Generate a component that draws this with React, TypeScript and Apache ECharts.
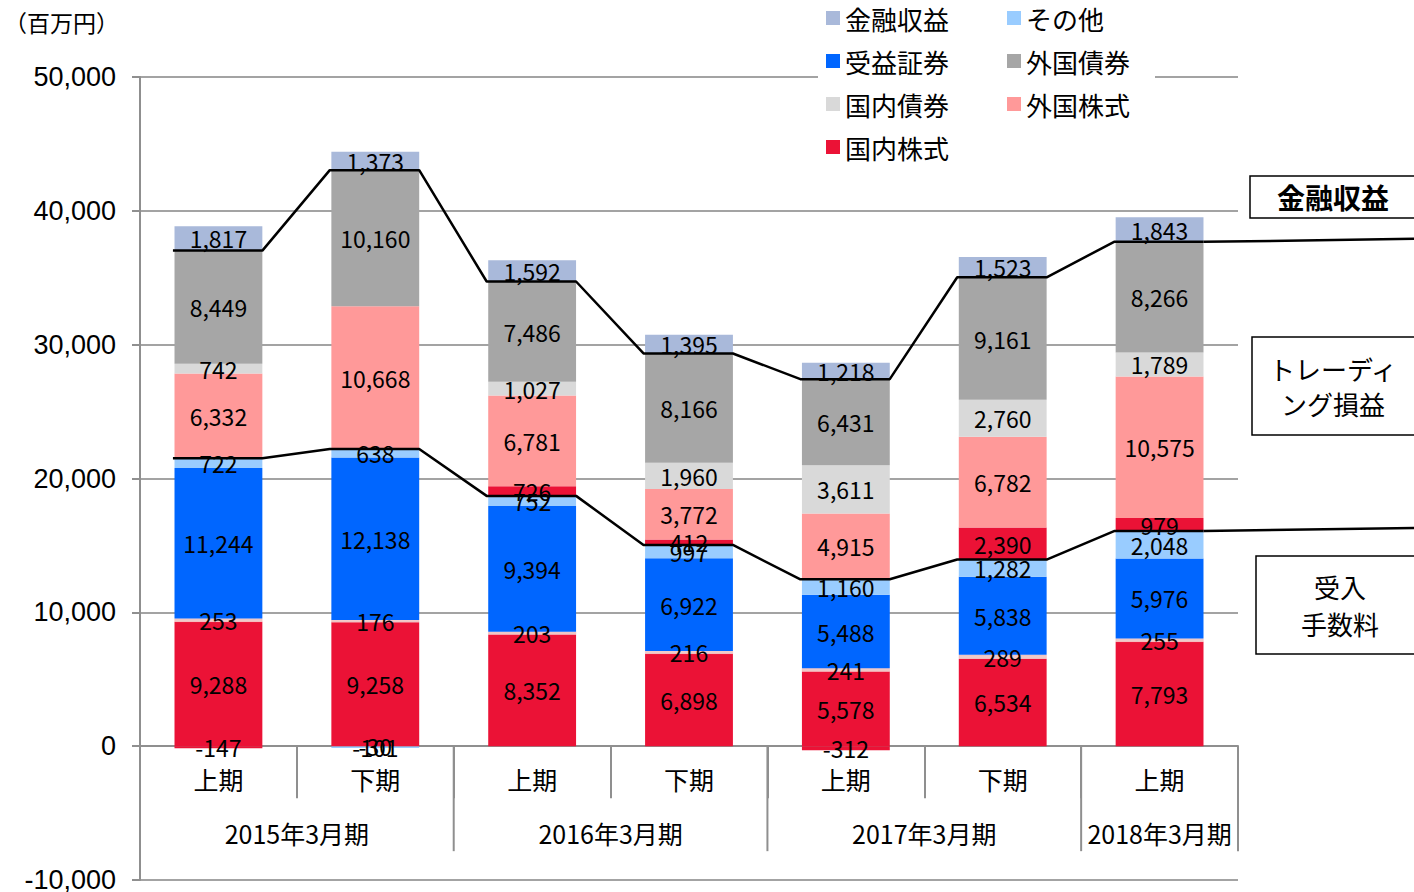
import React, { useEffect, useRef } from "react";
import * as echarts from "echarts";

const categories = ["上期", "下期", "上期", "下期", "上期", "下期", "上期"];
const years = ["2015年3月期", "2016年3月期", "2017年3月期", "2018年3月期"];
const yearSpans = [2, 2, 2, 1];

// 受入手数料
const feeDomesticStock = [9288, 9258, 8352, 6898, 5578, 6534, 7793];
const feeThin = [253, 176, 203, 216, 241, 289, 255];
const feeTrust = [11244, 12138, 9394, 6922, 5488, 5838, 5976];
const feeOther = [722, 638, 752, 997, 1160, 1282, 2048];
// トレーディング損益
const trDomesticStock = [-147, -30, 726, 412, -312, 2390, 979];
const trOther = [null, -101, null, null, null, null, null];
const trForeignStock = [6332, 10668, 6781, 3772, 4915, 6782, 10575];
const trDomesticBond = [742, null, 1027, 1960, 3611, 2760, 1789];
const trForeignBond = [8449, 10160, 7486, 8166, 6431, 9161, 8266];
// 金融収益
const finIncome = [1817, 1373, 1592, 1395, 1218, 1523, 1843];

const C = {
  fin: "#A9B9DA",
  other: "#99CCFF",
  trust: "#0066FF",
  fBond: "#A6A6A6",
  dBond: "#D9D9D9",
  fStock: "#FF9999",
  dStock: "#EB1236",
  thin: "#EDCBCB",
};

const JP = "'Noto Sans CJK JP', 'Noto Sans', sans-serif";
const AX = "#8F8F8F";

const pos = (v: number | null) => (v != null && v > 0 ? v : 0);

export default function App() {
  const ref = useRef<HTMLDivElement>(null);
  useEffect(() => {
    if (!ref.current) return;
    const chart = echarts.init(ref.current, undefined, { renderer: "svg" });

    const fmt = (p: any) =>
      p.value == null || p.value === 0 ? "" : Number(p.value).toLocaleString("en-US");

    const bar = (name: string, data: (number | null)[], color: string, extra: any = {}) => ({
      name,
      type: "bar",
      stack: "total",
      barWidth: "56%",
      data,
      itemStyle: { color, ...extra },
      label: {
        show: true,
        position: "inside",
        formatter: fmt,
        color: "#000",
        fontSize: 23,
        fontFamily: JP,
      },
      emphasis: { disabled: true },
      z: 2,
    });

    const feeTop = categories.map(
      (_, i) => pos(feeDomesticStock[i]) + pos(feeThin[i]) + pos(feeTrust[i]) + pos(feeOther[i])
    );
    const tradeTop = categories.map(
      (_, i) =>
        feeTop[i] +
        pos(trDomesticStock[i]) +
        pos(trOther[i]) +
        pos(trForeignStock[i]) +
        pos(trDomesticBond[i]) +
        pos(trForeignBond[i])
    );
    const halfW = 0.28;
    const linePts = (tops: number[]) => {
      const pts: number[][] = [];
      tops.forEach((t, i) => {
        pts.push([i + 0.5 - halfW - 0.01, t]);
        pts.push([i + 0.5 + halfW, t]);
      });
      return pts;
    };
    const lineSeries = (name: string, tops: number[]) => ({
      name,
      type: "line",
      xAxisIndex: 1,
      yAxisIndex: 0,
      data: linePts(tops),
      symbol: "none",
      clip: false,
      lineStyle: { color: "#000", width: 2.5 },
      emphasis: { disabled: true },
      z: 5,
    });

    const legendItem = (name: string, color: string) => ({
      name,
      icon: "rect",
      itemStyle: { color },
    });
    const legendCommon = {
      orient: "vertical",
      top: 0,
      itemWidth: 14,
      itemHeight: 14,
      itemGap: 17,
      selectedMode: false,
      backgroundColor: "#fff",
      textStyle: { fontSize: 26, lineHeight: 26, color: "#000", fontFamily: JP },
      z: 10,
    };

    const option: any = {
      animation: false,
      grid: { left: 140, right: 176, top: 77, bottom: 12, containLabel: false, outerBoundsMode: "none" },
      legend: [
        {
          ...legendCommon,
          left: 818,
          padding: [5, 60, 5, 8],
          data: [
            legendItem("金融収益", C.fin),
            legendItem("受益証券", C.trust),
            legendItem("国内債券", C.dBond),
            legendItem("国内株式", C.dStock),
          ],
        },
        {
          ...legendCommon,
          left: 997,
          padding: [5, 25, 5, 10],
          data: [
            legendItem("その他", C.other),
            legendItem("外国債券", C.fBond),
            legendItem("外国株式", C.fStock),
          ],
        },
      ],
      xAxis: [
        {
          type: "category",
          data: categories,
          position: "bottom",
          offset: 0,
          axisLine: { onZero: false, lineStyle: { color: AX, width: 2 } },
          axisTick: { show: true, length: 52, lineStyle: { color: AX, width: 2 } },
          axisLabel: { fontSize: 25, color: "#000", margin: 20, fontFamily: JP },
          splitLine: { show: false },
        },
        { type: "value", min: 0, max: 7, show: false },
      ],
      yAxis: {
        type: "value",
        min: -10000,
        max: 50000,
        interval: 10000,
        axisLine: { show: true, lineStyle: { color: AX, width: 2 } },
        axisTick: { show: true, length: 8, lineStyle: { color: AX, width: 2 } },
        axisLabel: {
          fontSize: 27,
          color: "#000",
          margin: 24,
          fontFamily: "'Liberation Sans', Arial, sans-serif",
          formatter: (v: number) => v.toLocaleString("en-US"),
        },
        splitLine: { lineStyle: { color: "#A3A3A3", width: 2 } },
      },
      series: [
        bar("国内株式", feeDomesticStock, C.dStock),
        bar("外国株式・債券手数料", feeThin, C.thin, { borderColor: "#F7B0B0", borderWidth: 0.5 }),
        bar("受益証券", feeTrust, C.trust),
        bar("その他", feeOther, C.other),
        bar("国内株式", trDomesticStock, C.dStock),
        bar("その他", trOther, C.other),
        bar("外国株式", trForeignStock, C.fStock),
        bar("国内債券", trDomesticBond, C.dBond),
        bar("外国債券", trForeignBond, C.fBond),
        bar("金融収益", finIncome, C.fin),
        lineSeries("手数料計", feeTop),
        lineSeries("トレーディング計", tradeTop),
      ],
    };
    chart.setOption(option);

    // graphics and axis placement that depend on the axis scale
    const px = (v: number) => chart.convertToPixel({ xAxisIndex: 1 }, v) as number;
    const py = (v: number) => chart.convertToPixel({ yAxisIndex: 0 }, v) as number;
    const y0 = py(0);
    const yBottom = py(-10000);
    const g: any[] = [];
    let acc = 0;
    years.forEach((label, k) => {
      const start = acc;
      acc += yearSpans[k];
      const xEnd = px(acc);
      g.push({
        type: "line",
        shape: { x1: xEnd, y1: y0, x2: xEnd, y2: y0 + 105 },
        style: { stroke: AX, lineWidth: 2 },
        z: 3,
      });
      g.push({
        type: "text",
        x: (px(start) + px(acc)) / 2,
        y: y0 + 87,
        style: {
          text: label,
          fontSize: 25,
          fontFamily: JP,
          fill: "#000",
          align: "center",
          verticalAlign: "middle",
        },
      });
    });
    // extensions of the sum lines toward the right-hand boxes
    const last = categories.length - 1;
    [feeTop[last], tradeTop[last]].forEach((t) => {
      g.push({
        type: "line",
        shape: { x1: px(last + 0.5 + halfW), y1: py(t), x2: 1414, y2: py(t) - 3 },
        style: { stroke: "#000", lineWidth: 2.5 },
        z: 5,
      });
    });
    // title
    g.push({
      type: "text",
      left: 4,
      top: 10,
      style: { text: "（百万円）", fontSize: 23, fontFamily: JP, fill: "#000" },
    });
    // annotation boxes
    const box = (
      x: number,
      y: number,
      h: number,
      lines: string[],
      cx: number,
      lh: number,
      fs: number
    ) => {
      g.push({
        type: "rect",
        shape: { x, y, width: 220, height: h },
        style: { fill: "#fff", stroke: "#000", lineWidth: 1.5 },
        z: 6,
      });
      g.push({
        type: "text",
        x: cx,
        y: y + h / 2,
        z: 7,
        style: {
          text: lines.join("\n"),
          fontSize: fs,
          lineHeight: lh,
          fontFamily: JP,
          fontWeight: fs > 27 ? "bold" : "normal",
          fill: "#000",
          align: "center",
          verticalAlign: "middle",
        },
      });
    };
    box(1250, 176, 42, ["金融収益"], 1333, 30, 28);
    box(1252, 337, 98, ["トレーディ", "ング損益"], 1333, 35, 26);
    box(1256, 556, 98, ["受入", "手数料"], 1340, 37, 26);

    chart.setOption({
      xAxis: [{ offset: y0 - yBottom }, {}],
      graphic: g,
    });

    return () => chart.dispose();
  }, []);

  return (
    <div
      ref={ref}
      style={{ position: "absolute", left: 0, top: 0, width: 1414, height: 892, background: "#fff" }}
    />
  );
}
